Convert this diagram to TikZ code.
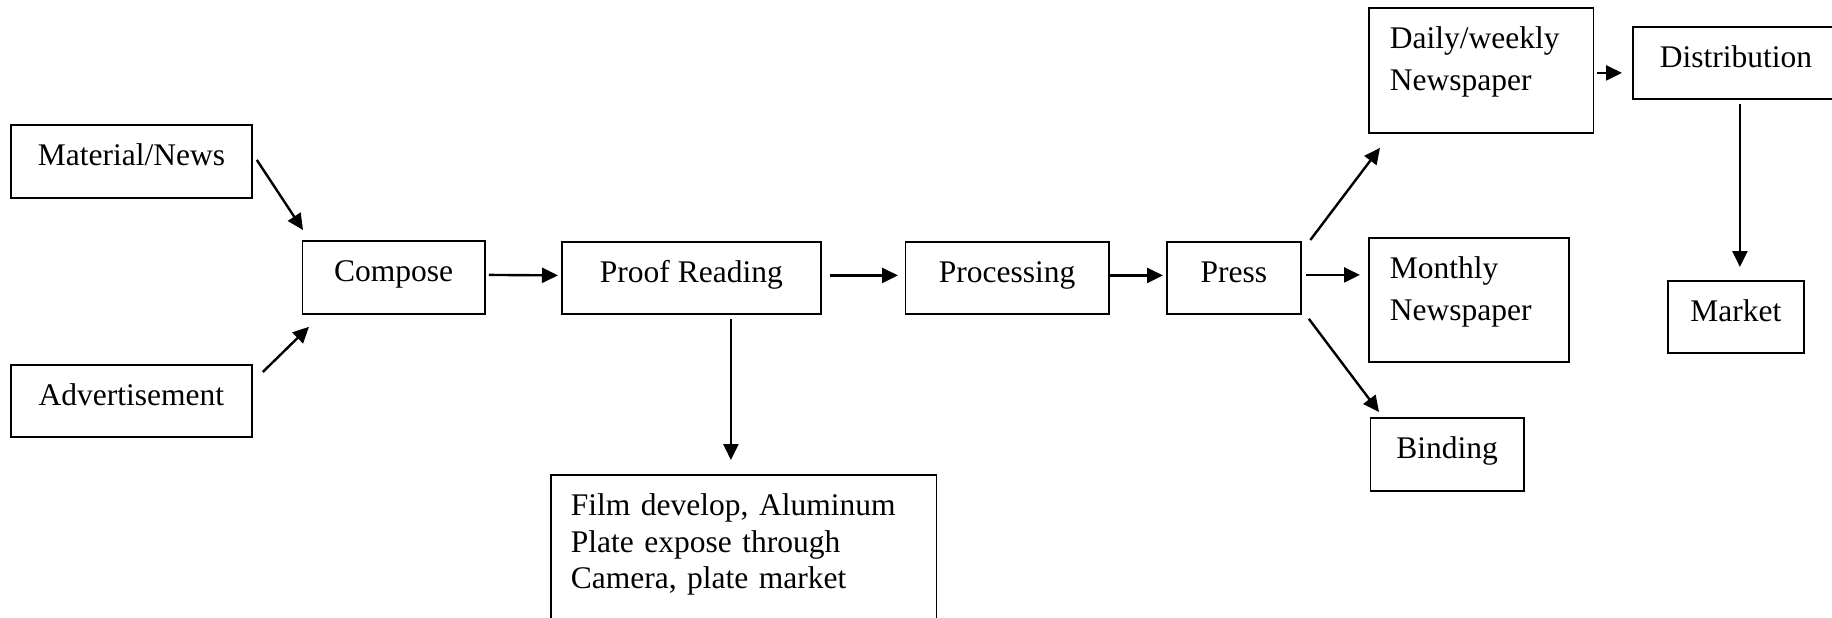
\documentclass[tikz,border=0pt]{standalone}
\usepackage{fontspec}
\setmainfont{Liberation Serif}
\usetikzlibrary{calc, arrows.meta}

\begin{document}
\begin{tikzpicture}[x=0.5pt, y=-0.5pt,
		box/.style = {draw, line width=0.9pt, anchor=north west, inner xsep=0pt, inner ysep=0pt,
			text height=20.5pt, text depth=16pt, font=\fontsize{15.75}{20.75}\selectfont},
		tbox/.style = {box, align=left, inner xsep=10.5pt},
		arr/.style = {-{Triangle[length=8pt,width=7.5pt]}, line width=1.2pt}]
	\useasboundingbox (0,0) rectangle (1832,617);

	\node [box, minimum width=120.5pt] (mat) at (10,124) {Material/News};
	\node [box, minimum width=120.5pt, text depth=15.5pt] (adv) at (10,364) {Advertisement};
	\node [box, minimum width=91.25pt] (comp) at (301.5,240) {Compose};
	\node [box, minimum width=129.5pt, text depth=15.5pt] (proof) at (561,241) {Proof Reading};
	\node [box, minimum width=101.75pt, text depth=15.5pt] (proc) at (904.5,241) {Processing};
	\node [box, minimum width=67pt, text depth=15.5pt] (press) at (1166,241) {Press};

	\node [tbox, inner xsep=10pt, text width=172.75pt, text depth=64.5pt,
		font=\fontsize{15.75}{18.25}\selectfont] (film) at (550,474)
		{Film develop, Aluminum\\Plate expose through\\Camera, plate market};

	\node [tbox, text width=91.25pt, text depth=42pt] (daily) at (1368,7) {Daily/weekly\\Newspaper};
	\node [tbox, text width=79pt, text depth=41.5pt] (mon) at (1368,237) {Monthly\\Newspaper};
	\node [box, minimum width=76.75pt] (bind) at (1369.5,417) {Binding};
	\node [box, minimum width=103pt, text depth=15.5pt] (dist) at (1632,26) {Distribution};
	\node [box, minimum width=68pt, text depth=15.5pt] (mkt) at (1667,280) {Market};

	\draw [arr] ($(mat.east)+(4,-1.5)$) -- ($(comp.north west)+(1.5,-10)$);
	\draw [arr] ($(adv.north east)+(10,8)$) -- ($(comp.south west)+(7.5,12)$);
	\draw [arr] ($(comp.east)+(3,-2.5)$) -- ($(proof.west)+(-3,-2.5)$);
	\draw [arr] ($(proof.east)+(8.5,-2.5)$) -- ($(proc.west)+(-6.5,-2.5)$);
	\draw [arr] ($(proc.east)+(0,-2.5)$) -- ($(press.west)+(-3,-2.5)$);

	\coordinate (pdown) at ($(proof.south)+(39.5,4.5)$);
	\draw [arr] (pdown) -- ($(pdown |- film.north)+(0,-14)$);

	\draw [arr] ($(press.north east)+(8.5,-1)$) -- ($(daily.south west)+(12,14)$);
	\draw [arr] ($(press.east)+(4,-3)$) -- ($(press.east -| mon.west)+(-8,-3)$);
	\draw [arr] ($(press.south east)+(7,4)$) -- ($(bind.north west)+(9.5,-5)$);

	\draw [arr] ($(daily.east)+(2.5,2.5)$) -- ($(daily.east -| dist.west)+(-10,2.5)$);
	\draw [arr] ($(dist.south)+(4,4)$) -- ($(mkt.north)+(4,-13)$);
\end{tikzpicture}
\end{document}
